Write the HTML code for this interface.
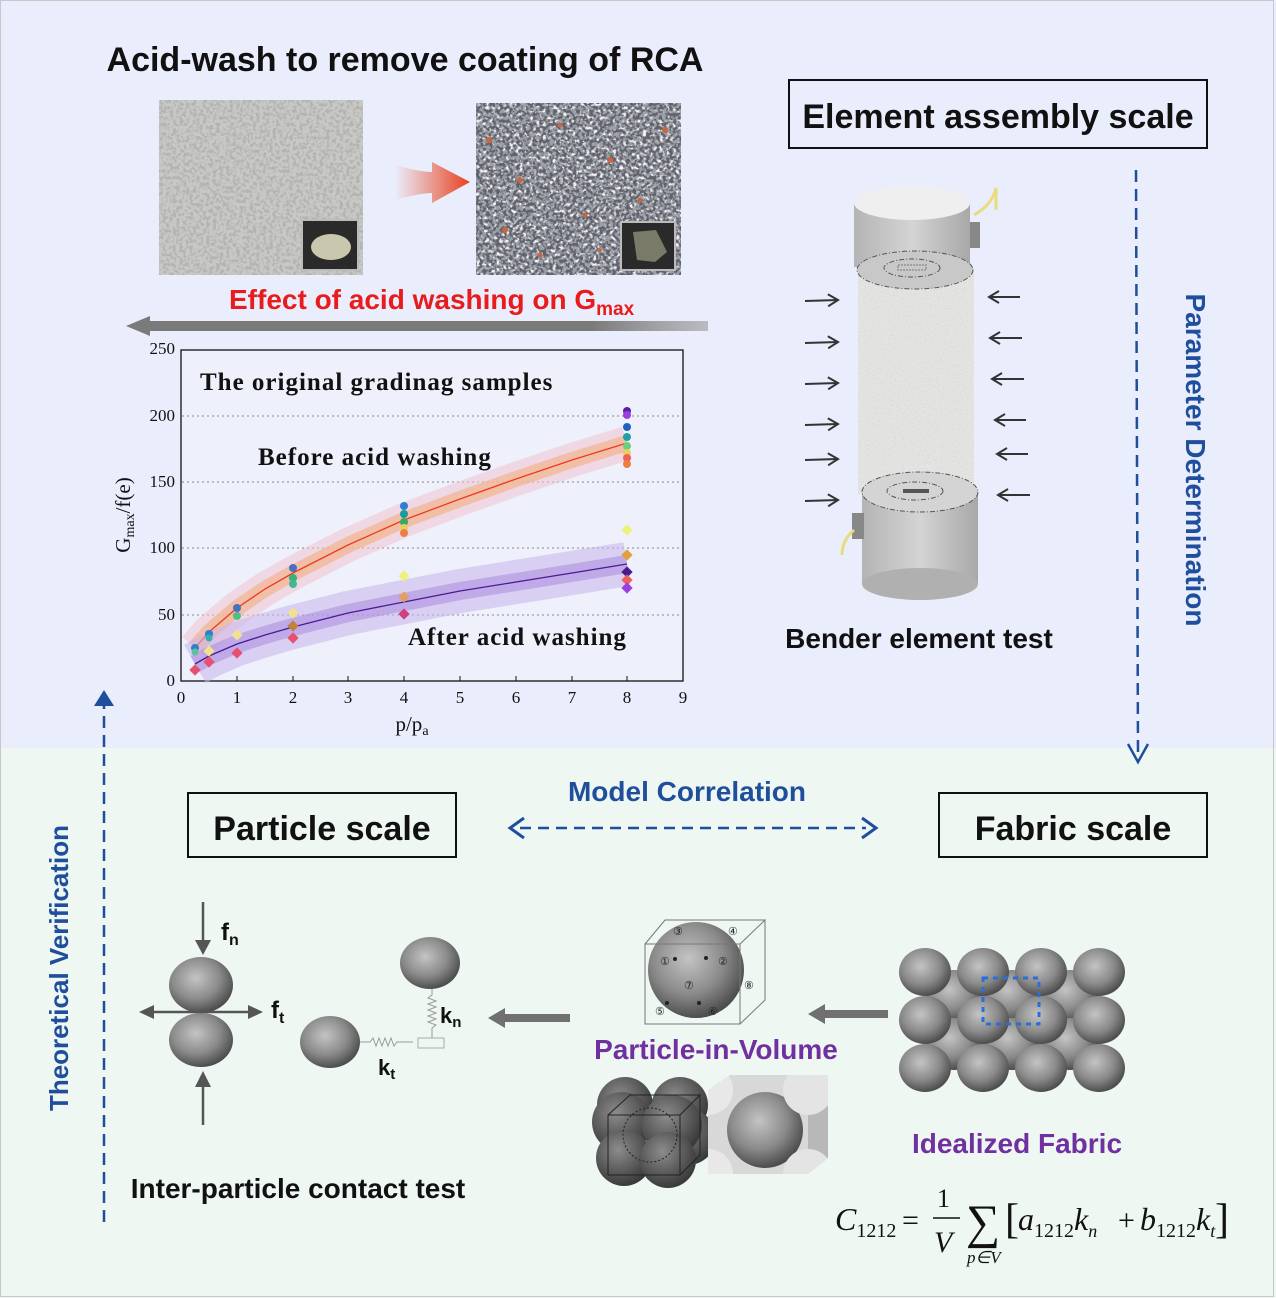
<!DOCTYPE html>
<html><head><meta charset="utf-8"><style>
html,body{margin:0;padding:0;background:#fff}
svg{display:block}
.b{font-family:"Liberation Sans",sans-serif;font-weight:bold}
.s{font-family:"Liberation Serif",serif}
</style></head><body>
<svg width="1276" height="1298" viewBox="0 0 1276 1298" xmlns="http://www.w3.org/2000/svg">
<defs>
<radialGradient id="sp" cx="0.42" cy="0.38" r="0.62"><stop offset="0" stop-color="#c4c4c4"/><stop offset="0.6" stop-color="#8a8a8a"/><stop offset="1" stop-color="#4e4e4e"/></radialGradient>
<radialGradient id="spd" cx="0.4" cy="0.35" r="0.65"><stop offset="0" stop-color="#8c8c8c"/><stop offset="1" stop-color="#3a3a3a"/></radialGradient>
<linearGradient id="red" x1="0" x2="1"><stop offset="0" stop-color="#e84a2a" stop-opacity="0"/><stop offset="1" stop-color="#e8401e"/></linearGradient>
<linearGradient id="cyl" x1="0" x2="1"><stop offset="0" stop-color="#b4b4b4"/><stop offset="0.5" stop-color="#d4d4d4"/><stop offset="1" stop-color="#a8a8a8"/></linearGradient>
<linearGradient id="gra" gradientUnits="userSpaceOnUse" x1="128" y1="0" x2="708" y2="0"><stop offset="0" stop-color="#7a7a7a"/><stop offset="0.8" stop-color="#7a7a7a"/><stop offset="1" stop-color="#9a9a9a" stop-opacity="0.6"/></linearGradient>
<filter id="n1" x="0" y="0" width="1" height="1"><feTurbulence type="fractalNoise" baseFrequency="0.3" numOctaves="2" seed="3"/><feColorMatrix type="matrix" values="0 0 0 0 0.45  0 0 0 0 0.45  0 0 0 0 0.44  5 0 0 0 -2.2"/></filter>
<filter id="n2" x="0" y="0" width="1" height="1"><feTurbulence type="fractalNoise" baseFrequency="0.3" numOctaves="2" seed="7"/><feColorMatrix type="matrix" values="0 0 0 0 0.12  0 0 0 0 0.12  0 0 0 0 0.15  6 0 0 0 -2.6"/></filter>
<filter id="n3" x="0" y="0" width="1" height="1"><feTurbulence type="fractalNoise" baseFrequency="0.3" numOctaves="1" seed="11"/><feColorMatrix type="matrix" values="0 0 0 0 0.92  0 0 0 0 0.92  0 0 0 0 0.92  5 0 0 0 -2.4"/></filter>
<filter id="n4" x="0" y="0" width="1" height="1"><feTurbulence type="fractalNoise" baseFrequency="0.6" numOctaves="1" seed="5"/><feColorMatrix type="matrix" values="0 0 0 0 0.6  0 0 0 0 0.6  0 0 0 0 0.6  3 0 0 0 -1.3"/></filter>
<clipPath id="cube"><rect x="708" y="1090" width="100" height="84"/><path d="M708,1090 L730,1075 L828,1075 L808,1090Z"/><path d="M808,1090 L828,1075 L828,1158 L808,1174Z"/></clipPath>
<marker id="ak" markerWidth="14" markerHeight="14" refX="12" refY="7" orient="auto" markerUnits="userSpaceOnUse"><path d="M2,1 L12,7 L2,13" fill="none" stroke="#333" stroke-width="2"/></marker>
</defs>
<rect width="1276" height="1298" fill="#eaedfb"/>
<rect y="748" width="1276" height="550" fill="#eef7f2"/>
<rect x="0.5" y="0.5" width="1273" height="1296" fill="none" stroke="#c8c8c8"/>

<text class="b" x="405" y="71" font-size="34" text-anchor="middle" fill="#111">Acid-wash to remove coating of RCA</text>
<!-- photos -->
<rect x="159" y="100" width="204" height="175" fill="#c8c8c5"/>
<rect x="159" y="100" width="204" height="175" filter="url(#n1)"/>
<rect x="302" y="220" width="56" height="50" fill="#2a2a2a" stroke="#bbb" stroke-width="2"/>
<ellipse cx="331" cy="247" rx="20" ry="13" fill="#c9c7ad"/>
<rect x="476" y="103" width="205" height="172" fill="#9aa0a8"/>
<rect x="476" y="103" width="205" height="172" filter="url(#n3)"/>
<rect x="476" y="103" width="205" height="172" filter="url(#n2)"/>
<g fill="#c7673f"><circle cx="489" cy="140" r="3"/><circle cx="520" cy="180" r="3"/><circle cx="560" cy="125" r="2.5"/><circle cx="610" cy="160" r="3"/><circle cx="640" cy="200" r="2.5"/><circle cx="505" cy="230" r="3"/><circle cx="585" cy="215" r="2.5"/><circle cx="665" cy="130" r="3"/><circle cx="540" cy="255" r="2.5"/><circle cx="600" cy="250" r="2"/></g>
<rect x="621" y="222" width="54" height="48" fill="#2a2a2a" stroke="#bbb" stroke-width="2"/>
<path d="M633,232 L656,230 L667,252 L655,262 L637,260Z" fill="#7a7a68"/>
<path d="M395,165 Q420,172 432,172 L432,162 L470,182 L432,203 L432,193 Q420,193 395,200Z" fill="url(#red)"/>
<text class="b" x="229" y="309" font-size="28" fill="#e81c1c">Effect of acid washing on G<tspan font-size="19" dy="6">max</tspan></text>
<rect x="148" y="321" width="560" height="10" fill="url(#gra)"/>
<path d="M150,316 L126,326 L150,336Z" fill="#7a7a7a"/>

<!-- chart -->
<rect x="181" y="350" width="502" height="331" fill="#eef0fb" stroke="#111" stroke-width="1.3"/>
<g stroke="#888" stroke-dasharray="2,3" stroke-width="1"><line x1="182" y1="416" x2="682" y2="416"/><line x1="182" y1="482" x2="682" y2="482"/><line x1="182" y1="548" x2="682" y2="548"/><line x1="182" y1="615" x2="682" y2="615"/></g>
<path d="M195,648 L209,632 L237,608 L265,589 L293,573 L348,545 L404,520 L460,499 L516,479 L572,460 L627,443" fill="none" stroke="#f1c4cf" stroke-width="34" stroke-opacity="0.55"/>
<path d="M195,648 L209,632 L237,608 L265,589 L293,573 L348,545 L404,520 L460,499 L516,479 L572,460 L627,443" fill="none" stroke="#f2b48f" stroke-width="16" stroke-opacity="0.7"/>
<path d="M195,648 L209,632 L237,608 L265,589 L293,573 L348,545 L404,520 L460,499 L516,479 L572,460 L627,443" fill="none" stroke="#ee3b1c" stroke-width="1.3"/>
<path d="M195,664 L209,656 L237,644 L265,635 L293,627 L348,613 L404,602 L460,591 L516,582 L572,573 L627,564" fill="none" stroke="#c9b4ec" stroke-width="44" stroke-opacity="0.55"/>
<path d="M195,664 L209,656 L237,644 L265,635 L293,627 L348,613 L404,602 L460,591 L516,582 L572,573 L627,564" fill="none" stroke="#a98bdc" stroke-width="18" stroke-opacity="0.55"/>
<path d="M195,664 L209,656 L237,644 L265,635 L293,627 L348,613 L404,602 L460,591 L516,582 L572,573 L627,564" fill="none" stroke="#4b1a96" stroke-width="1.3"/>
<g>
<circle cx="195" cy="648" r="4" fill="#2e7fd0"/><circle cx="195" cy="652" r="3.5" fill="#5fc0a0"/><circle cx="209" cy="634" r="4" fill="#2e7fd0"/><circle cx="209" cy="638" r="3.5" fill="#30b0b0"/>
<circle cx="237" cy="608" r="4" fill="#4a6fc0"/><circle cx="237" cy="616" r="4" fill="#50c080"/><circle cx="293" cy="568" r="4" fill="#4a6fc0"/><circle cx="293" cy="578" r="4" fill="#38b080"/><circle cx="293" cy="584" r="4" fill="#40b890"/>
<circle cx="404" cy="506" r="4" fill="#2e7fd0"/><circle cx="404" cy="514" r="4" fill="#1a9aa0"/><circle cx="404" cy="522" r="4" fill="#3aa860"/><circle cx="404" cy="528" r="4" fill="#e6d060"/><circle cx="404" cy="533" r="4" fill="#ec8040"/>
<circle cx="627" cy="411" r="4" fill="#5a20a0"/><circle cx="627" cy="415" r="4" fill="#9a40e0"/><circle cx="627" cy="427" r="4" fill="#2060c0"/><circle cx="627" cy="437" r="4" fill="#20a0a0"/><circle cx="627" cy="446" r="4" fill="#6ad080"/><circle cx="627" cy="453" r="4" fill="#e6d060"/><circle cx="627" cy="458" r="4" fill="#f06060"/><circle cx="627" cy="464" r="4" fill="#ec8040"/>
<g transform="translate(195,670) rotate(45)"><rect x="-4" y="-4" width="8" height="8" fill="#e85070"/></g>
<g transform="translate(209,662) rotate(45)"><rect x="-4" y="-4" width="8" height="8" fill="#e85070"/></g>
<g transform="translate(209,651) rotate(45)"><rect x="-4" y="-4" width="8" height="8" fill="#f0e090"/></g>
<g transform="translate(237,653) rotate(45)"><rect x="-4" y="-4" width="8" height="8" fill="#e85070"/></g>
<g transform="translate(237,635) rotate(45)"><rect x="-4" y="-4" width="8" height="8" fill="#f0e090"/></g>
<g transform="translate(293,638) rotate(45)"><rect x="-4" y="-4" width="8" height="8" fill="#e85070"/></g>
<g transform="translate(293,613) rotate(45)"><rect x="-4" y="-4" width="8" height="8" fill="#f0e090"/></g>
<g transform="translate(293,626) rotate(45)"><rect x="-4" y="-4" width="8" height="8" fill="#c08040"/></g>
<g transform="translate(404,614) rotate(45)"><rect x="-4" y="-4" width="8" height="8" fill="#d04080"/></g>
<g transform="translate(404,597) rotate(45)"><rect x="-4" y="-4" width="8" height="8" fill="#e0a060"/></g>
<g transform="translate(404,576) rotate(45)"><rect x="-4" y="-4" width="8" height="8" fill="#f0f080"/></g>
<g transform="translate(627,530) rotate(45)"><rect x="-4" y="-4" width="8" height="8" fill="#f0f080"/></g>
<g transform="translate(627,555) rotate(45)"><rect x="-4" y="-4" width="8" height="8" fill="#e0a040"/></g>
<g transform="translate(627,572) rotate(45)"><rect x="-4" y="-4" width="8" height="8" fill="#4a1a90"/></g>
<g transform="translate(627,580) rotate(45)"><rect x="-4" y="-4" width="8" height="8" fill="#f06060"/></g>
<g transform="translate(627,588) rotate(45)"><rect x="-4" y="-4" width="8" height="8" fill="#9a40e0"/></g>
</g>
<g class="s" font-size="17" fill="#111" text-anchor="end"><text x="175" y="354">250</text><text x="175" y="421">200</text><text x="175" y="487">150</text><text x="175" y="553">100</text><text x="175" y="620">50</text><text x="175" y="686">0</text></g>
<g class="s" font-size="17" fill="#111" text-anchor="middle"><text x="181" y="703">0</text><text x="237" y="703">1</text><text x="293" y="703">2</text><text x="348" y="703">3</text><text x="404" y="703">4</text><text x="460" y="703">5</text><text x="516" y="703">6</text><text x="572" y="703">7</text><text x="627" y="703">8</text><text x="683" y="703">9</text></g>
<g stroke="#111"><line x1="237" y1="681" x2="237" y2="676"/><line x1="293" y1="681" x2="293" y2="676"/><line x1="348" y1="681" x2="348" y2="676"/><line x1="404" y1="681" x2="404" y2="676"/><line x1="460" y1="681" x2="460" y2="676"/><line x1="516" y1="681" x2="516" y2="676"/><line x1="572" y1="681" x2="572" y2="676"/><line x1="627" y1="681" x2="627" y2="676"/></g>
<text class="s" x="412" y="731" font-size="21" text-anchor="middle" fill="#111">p/p<tspan font-size="14" dy="4">a</tspan></text>
<text class="s" transform="translate(130,515) rotate(-90)" font-size="21" text-anchor="middle" fill="#111">G<tspan font-size="14" dy="4">max</tspan><tspan dy="-4">/f(e)</tspan></text>
<g class="s" font-weight="bold" font-size="25" letter-spacing="1" fill="#111"><text x="200" y="390">The original gradinag samples</text><text x="258" y="465">Before acid washing</text><text x="408" y="645">After acid washing</text></g>

<!-- element assembly -->
<rect x="789" y="80" width="418" height="68" fill="none" stroke="#111" stroke-width="2"/>
<text class="b" x="998" y="128" font-size="34" text-anchor="middle" fill="#111">Element assembly scale</text>
<line x1="1136" y1="170" x2="1138" y2="755" stroke="#1f4e9c" stroke-width="2.5" stroke-dasharray="12,7"/>
<path d="M1128,744 L1138,762 L1148,744" fill="none" stroke="#1f4e9c" stroke-width="2.5"/>
<text class="b" transform="translate(1186,460) rotate(90)" font-size="28" text-anchor="middle" fill="#1f4e9c">Parameter Determination</text>
<!-- cylinder -->
<path d="M974,215 Q992,205 996,188 L996,210" fill="none" stroke="#e8dc80" stroke-width="3"/>
<rect x="968" y="222" width="12" height="26" fill="#888"/>
<rect x="854" y="203" width="116" height="64" fill="url(#cyl)"/>
<ellipse cx="912" cy="203" rx="58" ry="17" fill="#efefef"/>
<rect x="858" y="268" width="116" height="226" fill="#e4e4e2"/>
<rect x="858" y="268" width="116" height="226" filter="url(#n4)" opacity="0.35"/>
<ellipse cx="915" cy="270" rx="58" ry="19" fill="#c8c8c8" stroke="#555" stroke-dasharray="5,2,1,2"/>
<ellipse cx="912" cy="268" rx="28" ry="9" fill="none" stroke="#555" stroke-dasharray="5,2,1,2"/>
<rect x="898" y="265" width="28" height="5" fill="none" stroke="#777" stroke-dasharray="2,1"/>
<rect x="862" y="492" width="116" height="92" fill="url(#cyl)"/>
<ellipse cx="920" cy="584" rx="58" ry="16" fill="#b0b0b0"/>
<ellipse cx="920" cy="492" rx="58" ry="20" fill="#d4d4d4" stroke="#555" stroke-dasharray="5,2,1,2"/>
<ellipse cx="915" cy="491" rx="28" ry="9" fill="none" stroke="#555" stroke-dasharray="5,2,1,2"/>
<rect x="903" y="489" width="26" height="4" fill="#555"/>
<rect x="852" y="513" width="12" height="26" fill="#888"/>
<path d="M854,530 Q842,540 842,555" fill="none" stroke="#e8dc80" stroke-width="3"/>
<g stroke="#333" stroke-width="2" marker-end="url(#ak)">
<line x1="805" y1="301" x2="838" y2="300"/><line x1="805" y1="343" x2="838" y2="342"/><line x1="805" y1="384" x2="838" y2="383"/><line x1="805" y1="425" x2="838" y2="424"/><line x1="805" y1="460" x2="838" y2="459"/><line x1="805" y1="501" x2="838" y2="500"/>
<line x1="1020" y1="297" x2="989" y2="297"/><line x1="1022" y1="338" x2="990" y2="338"/><line x1="1024" y1="379" x2="992" y2="379"/><line x1="1026" y1="420" x2="995" y2="420"/><line x1="1028" y1="454" x2="997" y2="454"/><line x1="1030" y1="495" x2="998" y2="495"/>
</g>
<text class="b" x="919" y="648" font-size="28" text-anchor="middle" fill="#111">Bender element test</text>

<!-- lower -->
<text class="b" x="687" y="801" font-size="28" text-anchor="middle" fill="#1f4e9c">Model Correlation</text>
<line x1="520" y1="828" x2="866" y2="828" stroke="#1f4e9c" stroke-width="2.5" stroke-dasharray="11,7"/>
<path d="M524,818 L510,828 L524,838" fill="none" stroke="#1f4e9c" stroke-width="3"/>
<path d="M862,818 L876,828 L862,838" fill="none" stroke="#1f4e9c" stroke-width="3"/>
<rect x="188" y="793" width="268" height="64" fill="none" stroke="#111" stroke-width="2"/>
<text class="b" x="322" y="840" font-size="34" text-anchor="middle" fill="#111">Particle scale</text>
<rect x="939" y="793" width="268" height="64" fill="none" stroke="#111" stroke-width="2"/>
<text class="b" x="1073" y="840" font-size="34" text-anchor="middle" fill="#111">Fabric scale</text>
<line x1="104" y1="1222" x2="104" y2="705" stroke="#1f4e9c" stroke-width="2.5" stroke-dasharray="12,7"/>
<path d="M94,706 L104,690 L114,706Z" fill="#1f4e9c"/>
<text class="b" transform="translate(68,968) rotate(-90)" font-size="26" text-anchor="middle" fill="#1f4e9c">Theoretical Verification</text>

<!-- contact -->
<ellipse cx="201" cy="985" rx="32" ry="28" fill="url(#sp)"/>
<ellipse cx="201" cy="1040" rx="32" ry="27" fill="url(#sp)"/>
<g stroke="#555" stroke-width="2.5"><line x1="203" y1="902" x2="203" y2="942"/><line x1="203" y1="1125" x2="203" y2="1085"/><line x1="150" y1="1012" x2="252" y2="1012"/></g>
<path d="M195,940 L203,955 L211,940Z" fill="#555"/><path d="M195,1087 L203,1071 L211,1087Z" fill="#555"/>
<path d="M154,1005 L139,1012 L154,1019Z" fill="#555"/><path d="M248,1005 L263,1012 L248,1019Z" fill="#555"/>
<text class="b" x="221" y="940" font-size="24" fill="#111">f<tspan font-size="16" dy="5">n</tspan></text>
<text class="b" x="271" y="1018" font-size="24" fill="#111">f<tspan font-size="16" dy="5">t</tspan></text>
<ellipse cx="330" cy="1042" rx="30" ry="26" fill="url(#sp)"/>
<ellipse cx="430" cy="963" rx="30" ry="26" fill="url(#sp)"/>
<path d="M360,1042 L370,1042 L373,1038 L376,1046 L379,1038 L382,1046 L385,1038 L388,1046 L391,1038 L394,1046 L397,1042 L413,1042" fill="none" stroke="#999"/>
<path d="M432,989 L432,995 L428,998 L436,1001 L428,1004 L436,1007 L428,1010 L436,1013 L428,1016 L436,1019 L428,1022 L436,1025 L432,1028 L432,1038" fill="none" stroke="#999"/>
<rect x="418" y="1038" width="26" height="10" fill="none" stroke="#aaa"/>
<text class="b" x="440" y="1023" font-size="22" fill="#111">k<tspan font-size="15" dy="4">n</tspan></text>
<text class="b" x="378" y="1075" font-size="22" fill="#111">k<tspan font-size="15" dy="4">t</tspan></text>
<line x1="570" y1="1018" x2="500" y2="1018" stroke="#707070" stroke-width="8"/>
<path d="M505,1008 L488,1018 L505,1028Z" fill="#707070"/>
<text class="b" x="298" y="1198" font-size="28" text-anchor="middle" fill="#111">Inter-particle contact test</text>

<!-- particle in volume -->
<circle cx="696" cy="970" r="48" fill="url(#sp)"/>
<path d="M645,944 L740,944 L740,1024 L645,1024Z M645,944 L665,920 L765,920 L740,944 M765,920 L765,1000 L740,1024" fill="none" stroke="#777" stroke-width="1"/>
<g class="s" font-size="11" fill="#222"><text x="673" y="935">③</text><text x="728" y="935">④</text><text x="660" y="965">①</text><text x="718" y="965">②</text><text x="684" y="989">⑦</text><text x="744" y="989">⑧</text><text x="655" y="1015">⑤</text><text x="708" y="1015">⑥</text></g>
<g fill="#222"><circle cx="675" cy="959" r="2"/><circle cx="706" cy="958" r="2"/><circle cx="667" cy="1003" r="2"/><circle cx="699" cy="1003" r="2"/></g>
<line x1="888" y1="1014" x2="822" y2="1014" stroke="#707070" stroke-width="8"/>
<path d="M825,1004 L808,1014 L825,1024Z" fill="#707070"/>
<circle cx="625" cy="1105" r="28" fill="url(#spd)"/><circle cx="680" cy="1105" r="28" fill="url(#spd)"/>
<circle cx="688" cy="1137" r="28" fill="url(#spd)"/><circle cx="622" cy="1122" r="30" fill="url(#spd)"/>
<circle cx="672" cy="1125" r="30" fill="url(#spd)"/><circle cx="624" cy="1158" r="28" fill="url(#spd)"/>
<circle cx="668" cy="1160" r="28" fill="url(#spd)"/>
<path d="M608,1115 L680,1115 L680,1175 L608,1175Z M608,1115 L630,1095 L700,1095 L680,1115 M700,1095 L700,1155 L680,1175" fill="none" stroke="#222" stroke-width="1"/>
<circle cx="650" cy="1135" r="27" fill="none" stroke="#222" stroke-dasharray="2,2"/>
<g clip-path="url(#cube)">
<rect x="700" y="1070" width="135" height="110" fill="#d8d8d8"/>
<path d="M808,1090 L828,1075 L828,1158 L808,1174Z" fill="#b8b8b8"/>
<circle cx="765" cy="1130" r="38" fill="url(#sp)"/>
<circle cx="708" cy="1090" r="25" fill="#e8e8e8"/><circle cx="808" cy="1090" r="25" fill="#e4e4e4"/>
<circle cx="708" cy="1174" r="25" fill="#e8e8e8"/><circle cx="808" cy="1174" r="25" fill="#e4e4e4"/>
</g>
<text class="b" x="716" y="1059" font-size="28" text-anchor="middle" fill="#7030a0">Particle-in-Volume</text>

<!-- fabric -->
<g fill="url(#sp)">
<ellipse cx="954" cy="996" rx="29" ry="26"/><ellipse cx="1012" cy="996" rx="29" ry="26"/><ellipse cx="1070" cy="996" rx="29" ry="26"/>
<ellipse cx="954" cy="1044" rx="29" ry="26"/><ellipse cx="1012" cy="1044" rx="29" ry="26"/><ellipse cx="1070" cy="1044" rx="29" ry="26"/>
<ellipse cx="925" cy="972" rx="26" ry="24"/><ellipse cx="983" cy="972" rx="26" ry="24"/><ellipse cx="1041" cy="972" rx="26" ry="24"/><ellipse cx="1099" cy="972" rx="26" ry="24"/>
<ellipse cx="925" cy="1020" rx="26" ry="24"/><ellipse cx="983" cy="1020" rx="26" ry="24"/><ellipse cx="1041" cy="1020" rx="26" ry="24"/><ellipse cx="1099" cy="1020" rx="26" ry="24"/>
<ellipse cx="925" cy="1068" rx="26" ry="24"/><ellipse cx="983" cy="1068" rx="26" ry="24"/><ellipse cx="1041" cy="1068" rx="26" ry="24"/><ellipse cx="1099" cy="1068" rx="26" ry="24"/>
</g>
<rect x="983" y="978" width="56" height="46" fill="none" stroke="#2a6fd8" stroke-width="3" stroke-dasharray="5,5"/>
<text class="b" x="1017" y="1153" font-size="28" text-anchor="middle" fill="#7030a0">Idealized Fabric</text>

<!-- formula -->
<g class="s" font-style="italic" fill="#111">
<text x="835" y="1230" font-size="32">C<tspan font-size="20" font-style="normal" dy="7">1212</tspan></text>
<text x="902" y="1230" font-size="30" font-style="normal">=</text>
<text x="937" y="1207" font-size="26" font-style="normal">1</text>
<line x1="933" y1="1218" x2="960" y2="1218" stroke="#111" stroke-width="1.5"/>
<text x="934" y="1252" font-size="30">V</text>
<text x="966" y="1238" font-size="48" font-style="normal">∑</text>
<text x="967" y="1263" font-size="17">p∈V</text>
<text x="1005" y="1233" font-size="42" font-style="normal">[</text>
<text x="1018" y="1230" font-size="32">a<tspan font-size="20" font-style="normal" dy="7">1212</tspan><tspan dy="-7">k</tspan><tspan font-size="18" dy="7">n</tspan></text>
<text x="1118" y="1230" font-size="30" font-style="normal">+</text>
<text x="1140" y="1230" font-size="32">b<tspan font-size="20" font-style="normal" dy="7">1212</tspan><tspan dy="-7">k</tspan><tspan font-size="18" dy="7">t</tspan></text>
<text x="1215" y="1233" font-size="42" font-style="normal">]</text>
</g>
</svg>
</body></html>
